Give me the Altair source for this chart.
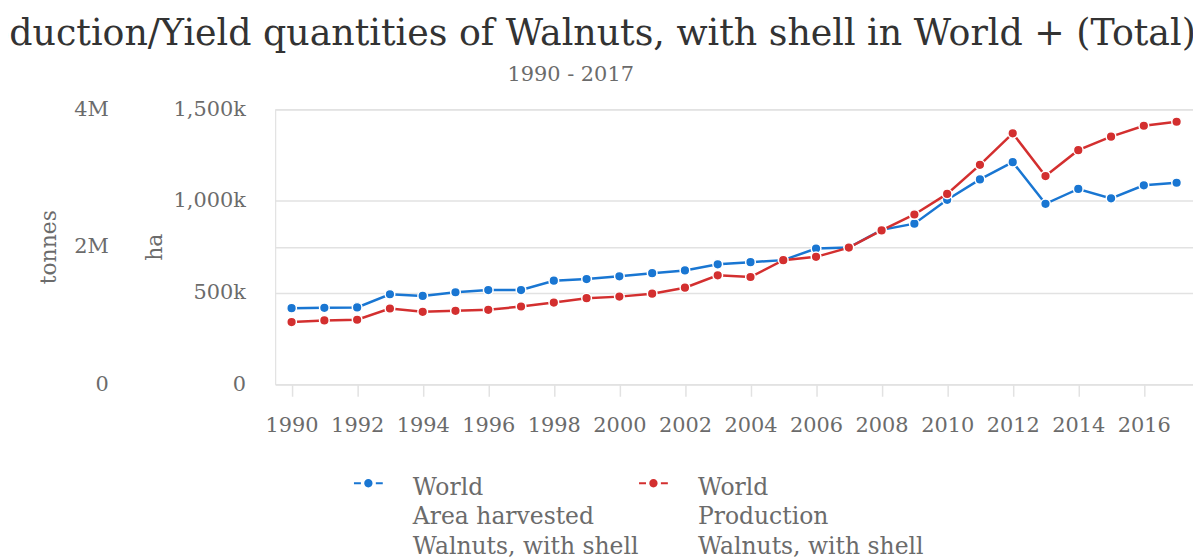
import altair as alt
import pandas as pd

# ---- data ----
years = list(range(1990, 2018))
area_ha = [415000, 417000, 419000, 491000, 482000, 502000, 514000, 514000, 565000, 574000,
           589000, 606000, 621000, 654000, 666000, 677000, 740000, 746000, 842000, 876000,
           1006000, 1117000, 1211000, 984000, 1065000, 1014000, 1085000, 1099000]
production_t = [905000, 929000, 939000, 1102000, 1054000, 1069000, 1083000, 1131000, 1189000, 1252000,
                1275000, 1318000, 1405000, 1584000, 1560000, 1805000, 1853000, 1988000, 2238000, 2469000,
                2768000, 3191000, 3649000, 3028000, 3404000, 3600000, 3759000, 3817000]
series_labels = ["World|Area harvested|Walnuts, with shell",
                 "World|Production|Walnuts, with shell"]
series_colors = ["#1976d2", "#d32f2f"]
x_ticks = list(range(1990, 2017, 2))
ha_ticks = [0, 500000, 1000000, 1500000]
t_ticks = [0, 2000000, 4000000]

FONT = "DejaVu Serif"
GRAY = "#6b6b6b"
GRID = "#e2e2e2"

df_area = pd.DataFrame({"year": years, "value": area_ha, "series": series_labels[0]})
df_prod = pd.DataFrame({"year": years, "value": production_t, "series": series_labels[1]})

x_enc = alt.X(
    "year:Q",
    scale=alt.Scale(domain=[1989.5, 2017.5], nice=False, zero=False),
    axis=alt.Axis(values=x_ticks, format="d", title=None, grid=False, domain=False,
                  ticks=True, tickSize=12, tickColor=GRID, tickWidth=1.5,
                  labelPadding=19, labelFontSize=21, labelFont=FONT, labelColor=GRAY,
                  labelFlush=False),
)

# legend symbol: "-o-" glyph
legend = alt.Legend(
    title=None, orient="none", legendX=82, legendY=357, columns=2,
    labelExpr="split(datum.label, '|')", labelFont=FONT, labelFontSize=23.6,
    labelColor=GRAY, labelBaseline="top", labelOffset=33, labelLimit=500,
    columnPadding=0,
    symbolType="M-1.45,0.64H-0.75V0.86H-1.45Z M0.75,0.64H1.45V0.86H0.75Z "
               "M-0.42,0.75A0.42,0.42 0 1,0 0.42,0.75A0.42,0.42 0 1,0 -0.42,0.75Z",
    symbolSize=400, symbolStrokeWidth=0,
)
color_enc = alt.Color("series:N", scale=alt.Scale(domain=series_labels, range=series_colors),
                      legend=legend)

y_ha = alt.Y(
    "value:Q",
    scale=alt.Scale(domain=[0, 1500000], nice=False),
    axis=alt.Axis(orient="left", values=ha_ticks,
                  labelExpr="datum.value == 0 ? '0' : format(datum.value / 1000, ',') + 'k'",
                  title="ha", titlePadding=7, labelPadding=30, ticks=False, domain=False,
                  grid=True, gridColor=GRID, gridWidth=1.5,
                  labelFont=FONT, labelFontSize=21, labelColor=GRAY,
                  titleFont=FONT, titleFontSize=22, titleColor=GRAY, titleFontWeight="normal"),
)
y_t = alt.Y(
    "value:Q",
    scale=alt.Scale(domain=[0, 4000000], nice=False),
    axis=alt.Axis(orient="left", values=t_ticks,
                  labelExpr="datum.value == 0 ? '0' : format(datum.value / 1000000, 'd') + 'M'",
                  title="tonnes", titlePadding=16, labelPadding=168, ticks=False, domain=False,
                  grid=True, gridColor=GRID, gridWidth=1.5,
                  labelFont=FONT, labelFontSize=21, labelColor=GRAY,
                  titleFont=FONT, titleFontSize=22, titleColor=GRAY, titleFontWeight="normal"),
)


def series_layer(df, y_enc):
    base = alt.Chart(df).encode(x=x_enc, y=y_enc, color=color_enc)
    line = base.mark_line(strokeWidth=2.5)
    pts = base.mark_point(filled=True, size=95, opacity=1, stroke="white", strokeWidth=1.5)
    return alt.layer(line, pts)


chart = (
    alt.layer(series_layer(df_area, y_ha), series_layer(df_prod, y_t))
    .resolve_scale(y="independent")
    .properties(
        width=924, height=277,
        padding={"left": 269, "top": 100, "right": 0, "bottom": 174},
        autosize=alt.AutoSizeParams(type="none"),
        background="white",
        title=alt.TitleParams(
            text="Production/Yield quantities of Walnuts, with shell in World + (Total)",
            subtitle="1990 - 2017", anchor="middle", font=FONT, fontSize=36.6,
            fontWeight="normal", color="#333333", subtitleFont=FONT, subtitleFontSize=21,
            subtitleColor=GRAY, offset=13, subtitlePadding=12, dx=-164.5,
        ),
    )
    .configure_view(stroke=None)
    .configure(font=FONT, style={"guide-label": {"lineHeight": 30}})
)

chart.save("out.html", embed_options={"renderer": "svg", "actions": False})
